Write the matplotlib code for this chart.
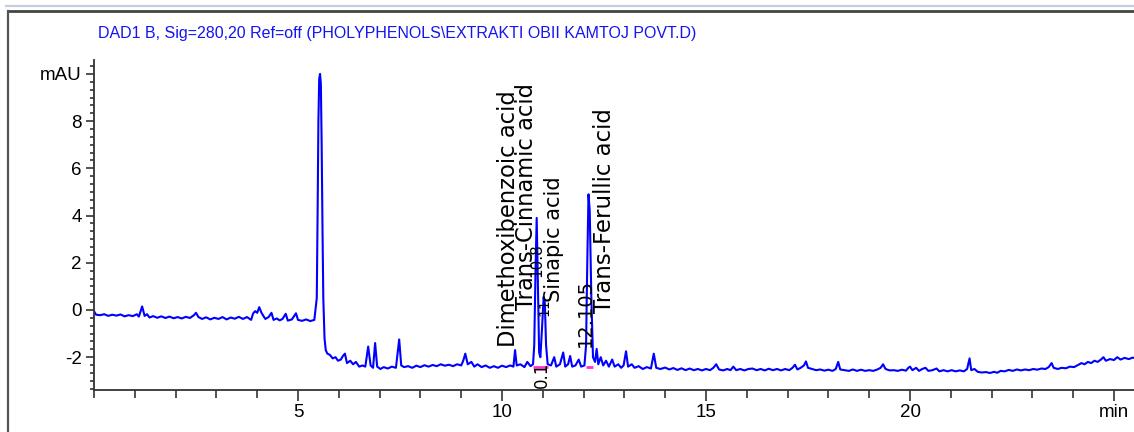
import matplotlib
matplotlib.use("Agg")
import matplotlib.pyplot as plt
from matplotlib.lines import Line2D
from matplotlib.ticker import MultipleLocator, FixedLocator, FixedFormatter
from matplotlib import font_manager

# chromatogram trace (time in min, signal in mAU)
time_min = [
    0.00, 0.05, 0.15, 0.25, 0.35, 0.45, 0.55, 0.65, 0.75, 0.85, 0.95, 1.05, 1.10, 1.18, 1.24,
    1.30, 1.36, 1.45, 1.55, 1.65, 1.75, 1.85, 1.95, 2.05, 2.15, 2.25, 2.35, 2.45, 2.50, 2.56,
    2.65, 2.75, 2.85, 2.95, 3.05, 3.15, 3.25, 3.35, 3.45, 3.55, 3.65, 3.75, 3.85, 3.90, 3.95,
    4.00, 4.05, 4.10, 4.15, 4.20, 4.28, 4.35, 4.40, 4.48, 4.55, 4.62, 4.70, 4.75, 4.85, 4.95,
    5.00, 5.10, 5.20, 5.30, 5.40, 5.46, 5.48, 5.50, 5.52, 5.54, 5.56, 5.58, 5.60, 5.62, 5.65,
    5.68, 5.72, 5.78, 5.85, 5.92, 5.98, 6.05, 6.10, 6.15, 6.20, 6.28, 6.35, 6.42, 6.50, 6.58,
    6.65, 6.72, 6.78, 6.84, 6.89, 6.94, 7.02, 7.10, 7.20, 7.30, 7.40, 7.48, 7.53, 7.60, 7.70,
    7.80, 7.90, 8.00, 8.10, 8.20, 8.30, 8.40, 8.50, 8.60, 8.70, 8.80, 8.90, 9.00, 9.05, 9.10,
    9.16, 9.25, 9.32, 9.40, 9.50, 9.60, 9.70, 9.80, 9.90, 10.00, 10.10, 10.20, 10.28, 10.32, 10.36,
    10.45, 10.55, 10.62, 10.70, 10.76, 10.79, 10.82, 10.85, 10.88, 10.91, 10.94, 10.98, 11.02, 11.05, 11.08,
    11.12, 11.20, 11.28, 11.33, 11.42, 11.50, 11.55, 11.62, 11.67, 11.72, 11.80, 11.88, 11.94, 12.02, 12.06,
    12.09, 12.12, 12.15, 12.19, 12.23, 12.28, 12.32, 12.36, 12.42, 12.48, 12.55, 12.62, 12.70, 12.76, 12.85,
    12.92, 12.98, 13.04, 13.09, 13.18, 13.25, 13.35, 13.45, 13.55, 13.65, 13.72, 13.78, 13.88, 14.00, 14.10,
    14.20, 14.30, 14.40, 14.50, 14.60, 14.70, 14.80, 14.90, 15.00, 15.10, 15.18, 15.25, 15.32, 15.42, 15.52,
    15.60, 15.67, 15.74, 15.84, 15.94, 16.04, 16.14, 16.24, 16.34, 16.44, 16.54, 16.64, 16.74, 16.84, 16.94,
    17.04, 17.12, 17.18, 17.24, 17.32, 17.40, 17.45, 17.50, 17.60, 17.70, 17.80, 17.90, 18.00, 18.10, 18.18,
    18.24, 18.29, 18.40, 18.50, 18.60, 18.70, 18.80, 18.90, 19.00, 19.10, 19.20, 19.28, 19.34, 19.40, 19.50,
    19.60, 19.70, 19.80, 19.90, 19.96, 20.00, 20.06, 20.15, 20.22, 20.30, 20.38, 20.45, 20.55, 20.65, 20.72,
    20.82, 20.92, 21.02, 21.12, 21.22, 21.32, 21.40, 21.46, 21.50, 21.58, 21.66, 21.76, 21.86, 21.96, 22.06,
    22.14, 22.22, 22.32, 22.42, 22.52, 22.62, 22.72, 22.82, 22.92, 23.02, 23.12, 23.22, 23.32, 23.40, 23.47,
    23.52, 23.62, 23.72, 23.82, 23.92, 24.02, 24.12, 24.20, 24.28, 24.36, 24.44, 24.52, 24.60, 24.68, 24.74,
    24.80, 24.90, 25.00, 25.08, 25.16, 25.26, 25.36, 25.46, 25.55,
]
signal_mau = [
    -0.05, -0.20, -0.22, -0.18, -0.25, -0.20, -0.24, -0.19, -0.27, -0.22, -0.26, -0.18, -0.28, 0.15, -0.25,
    -0.18, -0.32, -0.26, -0.33, -0.27, -0.34, -0.28, -0.35, -0.30, -0.36, -0.29, -0.34, -0.22, -0.12, -0.30,
    -0.38, -0.31, -0.40, -0.33, -0.38, -0.30, -0.40, -0.32, -0.37, -0.29, -0.38, -0.30, -0.42, -0.15, -0.05,
    -0.12, 0.12, -0.10, -0.25, -0.38, -0.30, -0.12, -0.42, -0.36, -0.44, -0.38, -0.16, -0.45, -0.40, -0.14,
    -0.42, -0.46, -0.40, -0.47, -0.42, 0.50, 4.00, 8.00, 9.80, 10.00, 9.60, 7.00, 3.50, 0.50, -1.20,
    -1.70, -1.85, -1.90, -2.05, -2.00, -2.15, -2.10, -1.95, -1.85, -2.25, -2.15, -2.30, -2.20, -2.40, -2.35,
    -2.40, -1.55, -2.35, -2.45, -1.40, -2.40, -2.50, -2.42, -2.48, -2.40, -2.45, -1.25, -2.35, -2.42, -2.38,
    -2.45, -2.36, -2.42, -2.34, -2.40, -2.33, -2.38, -2.30, -2.36, -2.32, -2.38, -2.30, -2.35, -2.15, -1.85,
    -2.30, -2.20, -2.40, -2.30, -2.42, -2.35, -2.45, -2.38, -2.45, -2.36, -2.42, -2.35, -2.40, -1.70, -2.35,
    -2.30, -2.42, -2.20, -2.38, -2.30, -1.50, 1.50, 3.90, 1.00, -1.80, -2.00, -0.80, 0.55, 0.30, -1.50,
    -2.30, -2.35, -2.00, -2.40, -2.30, -1.80, -2.40, -2.30, -1.95, -2.40, -2.35, -2.10, -2.40, -2.35, -1.50,
    2.00, 4.90, 4.20, 0.50, -2.00, -2.20, -1.65, -2.30, -2.00, -2.35, -2.15, -2.40, -2.10, -2.40, -2.30,
    -2.45, -2.35, -1.75, -2.40, -2.30, -2.45, -2.38, -2.50, -2.42, -2.48, -1.85, -2.45, -2.50, -2.44, -2.52,
    -2.46, -2.54, -2.47, -2.55, -2.48, -2.55, -2.50, -2.56, -2.50, -2.55, -2.45, -2.30, -2.52, -2.56, -2.50,
    -2.55, -2.40, -2.55, -2.50, -2.56, -2.50, -2.48, -2.55, -2.50, -2.56, -2.49, -2.55, -2.50, -2.56, -2.50,
    -2.55, -2.45, -2.32, -2.52, -2.45, -2.35, -2.18, -2.45, -2.50, -2.55, -2.52, -2.57, -2.53, -2.58, -2.50,
    -2.20, -2.52, -2.55, -2.58, -2.52, -2.58, -2.53, -2.58, -2.55, -2.58, -2.52, -2.45, -2.30, -2.50, -2.56,
    -2.55, -2.58, -2.53, -2.57, -2.45, -2.40, -2.55, -2.45, -2.58, -2.50, -2.45, -2.58, -2.55, -2.48, -2.60,
    -2.55, -2.60, -2.55, -2.60, -2.56, -2.60, -2.50, -2.05, -2.55, -2.50, -2.62, -2.65, -2.63, -2.67, -2.62,
    -2.66, -2.58, -2.60, -2.54, -2.58, -2.52, -2.56, -2.52, -2.55, -2.50, -2.53, -2.48, -2.50, -2.42, -2.25,
    -2.45, -2.50, -2.45, -2.47, -2.40, -2.42, -2.33, -2.25, -2.30, -2.20, -2.25, -2.15, -2.20, -2.10, -2.00,
    -2.15, -2.08, -2.12, -2.00, -2.10, -2.03, -2.08, -2.02, -2.05,
]

# integration baselines (start, end, level)
base_start = [10.77, 12.05]
base_end = [11.12, 12.22]
base_level = [-2.42, -2.42]

# peak annotations: compound names
name_text = ["Dimethoxibenzoic acid", "Trans-Cinnamic acid", "Sinapic acid", "Trans-Ferullic acid"]
name_time = [10.15, 10.60, 11.27, 12.50]
name_start = [-1.57, 0.0, 0.34, -0.13]

# retention-time labels
rt_text = ["10.8", "11", "0.1", "12.105"]
rt_time = [10.86, 11.05, 10.97, 12.04]
rt_start = [1.40, -0.25, -3.30, -1.57]

x_major = [5, 10, 15, 20, 25]
x_labels = ["5", "10", "15", "20", "min"]
y_major = [-2, 0, 2, 4, 6, 8, 10]
y_labels = ["-2", "0", "2", "4", "6", "8", "mAU"]

title = r"DAD1 B, Sig=280,20 Ref=off (PHOLYPHENOLS\EXTRAKTI OBII KAMTOJ POVT.D)"

try:
    font_manager.findfont("Liberation Sans Narrow", fallback_to_default=False)
    narrow = "Liberation Sans Narrow"
    title_size, tick_size = 13.5, 14.5
except ValueError:
    narrow = "Liberation Sans"
    title_size, tick_size = 11.5, 13.5

fig = plt.figure(figsize=(11.34, 4.32), dpi=100)
ax = fig.add_axes([94 / 1134, 1 - 390 / 432, 1040 / 1134, 330 / 432])

ax.plot(time_min, signal_mau, color="#0000ff", linewidth=1.5, solid_joinstyle="round")
ax.hlines(base_level, base_start, base_end, color="#ff33cc", linewidth=2)

name_sizes = [16.3, 16.3, 15, 16.5]
for name, t, v, size in zip(name_text, name_time, name_start, name_sizes):
    ax.text(t, v, name, rotation=90, ha="center", va="bottom", fontsize=size,
            family="DejaVu Sans", color="black")
rt_sizes = [11, 10, 12, 14]
for rt, t, v, size in zip(rt_text, rt_time, rt_start, rt_sizes):
    ax.text(t, v, rt, rotation=90, ha="center", va="bottom", fontsize=size,
            family="DejaVu Sans", color="black")

ax.set_xlim(0, 25.49)
ax.set_ylim(-3.39, 10.59)

ax.xaxis.set_major_locator(FixedLocator(x_major))
ax.xaxis.set_major_formatter(FixedFormatter(x_labels))
ax.xaxis.set_minor_locator(MultipleLocator(1))
ax.yaxis.set_major_locator(FixedLocator(y_major))
ax.yaxis.set_major_formatter(FixedFormatter(y_labels))
ax.yaxis.set_minor_locator(MultipleLocator(1 / 3))

ax.tick_params(axis="x", which="major", direction="out", length=8, width=1.2, pad=2,
               color="#333333", labelsize=tick_size)
ax.tick_params(axis="x", which="minor", direction="out", length=5.5, width=1.2, color="#333333")
ax.tick_params(axis="y", which="major", direction="out", length=6, width=1.2, pad=3,
               color="#333333", labelsize=tick_size)
ax.tick_params(axis="y", which="minor", direction="out", length=3, width=1.2, color="#333333")
for lab in ax.get_xticklabels() + ax.get_yticklabels():
    lab.set_family([narrow, "DejaVu Sans"])

for side in ["top", "right"]:
    ax.spines[side].set_visible(False)
for side in ["left", "bottom"]:
    ax.spines[side].set_color("#333333")
    ax.spines[side].set_linewidth(1.3)

fig.text(98 / 1134, 1 - 38 / 432, title, color="#1414f0", fontsize=title_size,
         family=[narrow, "DejaVu Sans"], ha="left", va="baseline")

# window frame around the plot
fig.add_artist(Line2D([6 / 1134, 1], [1 - 5.5 / 432] * 2, color="#c5cde0", linewidth=1.6))
fig.add_artist(Line2D([8 / 1134, 1], [1 - 10.5 / 432] * 2, color="#444444", linewidth=2))
fig.add_artist(Line2D([8 / 1134] * 2, [0, 1 - 10.5 / 432], color="#555555", linewidth=1.6))

fig.savefig("out.png", dpi=100)
